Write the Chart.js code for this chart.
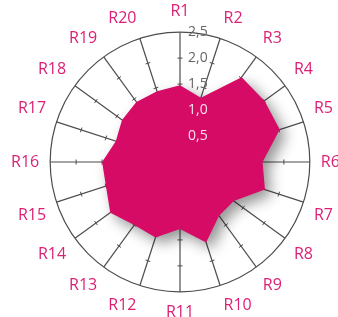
<!DOCTYPE html>
<html><head><meta charset="utf-8">
<script src="https://cdn.jsdelivr.net/npm/chart.js@4/dist/chart.umd.min.js"></script>
<style>html,body{margin:0;padding:0;background:#fff;overflow:hidden;}#wrap{width:338px;height:317px;position:relative;overflow:hidden;}#c{position:absolute;left:-3px;top:-8px;}</style>
</head><body><div id="wrap"><canvas id="c" width="360" height="340" style="width:360px;height:340px"></canvas></div>
<script>
const categories = ['R1','R2','R3','R4','R5','R6','R7','R8','R9','R10','R11','R12','R13','R14','R15','R16','R17','R18','R19','R20'];
const values = [1.48,1.30,2.02,2.01,2.02,1.59,1.72,1.28,1.28,1.63,1.29,1.53,1.50,1.66,1.50,1.50,1.30,1.38,1.43,1.43];
const tickValues = [0.5,1.0,1.5,2.0,2.5];
const tickLabels = ['0,5','1,0','1,5','2,0','2,5'];

const decor = {
  id: 'decor',
  beforeDatasetsDraw(chart) {
    const s = chart.scales.r, ctx = chart.ctx;
    ctx.save();
    ctx.strokeStyle = '#4d4d4d'; ctx.lineWidth = 1;
    for (let i = 0; i < categories.length; i++) {
      const a = s.getIndexAngle(i) - Math.PI / 2;
      const px = -Math.sin(a), py = Math.cos(a);
      for (const v of tickValues.slice(0, -1)) {
        const p = s.getPointPositionForValue(i, v);
        ctx.beginPath();
        ctx.moveTo(p.x - px * 2.5, p.y - py * 2.5);
        ctx.lineTo(p.x + px * 2.5, p.y + py * 2.5);
        ctx.stroke();
      }
    }
    ctx.restore();
    ctx.save();
    ctx.shadowColor = 'rgba(0,0,0,0.42)';
    ctx.shadowBlur = 14;
    ctx.shadowOffsetX = 6;
    ctx.shadowOffsetY = 6;
  },
  afterDatasetsDraw(chart) {
    const ctx = chart.ctx, s = chart.scales.r;
    ctx.restore();
    ctx.save();
    ctx.font = '14px "Open Sans"';
    ctx.textAlign = 'left';
    ctx.textBaseline = 'middle';
    tickValues.forEach((v, k) => {
      const d = s.getDistanceFromCenterForValue(v);
      ctx.fillStyle = v >= 1.5 ? '#666666' : 'rgba(255,255,255,0.88)';
      ctx.fillText(tickLabels[k], s.xCenter + 8, s.yCenter - d);
    });
    ctx.restore();
  }
};

new Chart(document.getElementById('c'), {
  type: 'radar',
  data: {
    labels: categories,
    datasets: [{
      data: values,
      backgroundColor: '#d60b66',
      borderWidth: 0,
      pointRadius: 0,
      fill: true,
      tension: 0
    }]
  },
  options: {
    responsive: false,
    animation: false,
    devicePixelRatio: 1,
    layout: { padding: { left: 9, top: 9, right: 12, bottom: 9 } },
    plugins: { legend: { display: false }, tooltip: { enabled: false } },
    scales: {
      r: {
        min: 0, max: 2.5,
        ticks: { stepSize: 0.5, display: false },
        grid: {
          circular: true,
          lineWidth: 1.2,
          color: (c) => (c.tick && c.tick.value === 2.5) ? '#4d4d4d' : 'rgba(0,0,0,0)'
        },
        angleLines: { color: '#4d4d4d', lineWidth: 1.2 },
        pointLabels: {
          color: '#dc1f74',
          padding: 11,
          font: { family: '"Open Sans"', size: 16 }
        }
      }
    }
  },
  plugins: [decor]
});
</script>
</body></html>
